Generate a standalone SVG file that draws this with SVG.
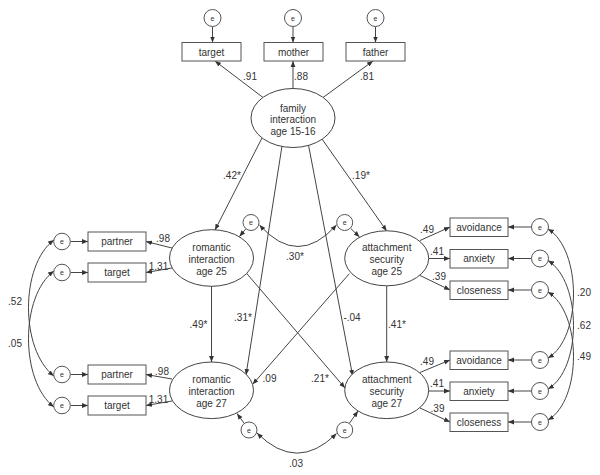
<svg xmlns="http://www.w3.org/2000/svg" width="600" height="475" viewBox="0 0 600 475">
<defs>
<marker id="ah" viewBox="0 0 10 10" refX="10" refY="5" markerWidth="6" markerHeight="6" markerUnits="userSpaceOnUse" orient="auto-start-reverse"><path d="M0,1 L10,5 L0,9 z" fill="#333"/></marker>
<style>
text{font-family:"Liberation Sans",Arial,sans-serif;font-size:10px;fill:#333;text-anchor:middle}
text.e{font-size:7px}
.box{fill:#fff;stroke:#555;stroke-width:1}
.ell{fill:#fff;stroke:#444;stroke-width:1}
.err{fill:#fff;stroke:#555;stroke-width:1}
#connectors path,#connectors line{fill:none;stroke:#444;stroke-width:1}
.a{marker-end:url(#ah)}
.b{marker-start:url(#ah);marker-end:url(#ah)}
</style>
</defs>
<rect width="600" height="475" fill="#fff"/>

<g id="connectors">
<!-- top indicators -->
<line class="a" x1="212.5" y1="26.5" x2="212.5" y2="42.5"/>
<line class="a" x1="293" y1="26.5" x2="293" y2="42.5"/>
<line class="a" x1="375.5" y1="26.5" x2="375.5" y2="42.5"/>
<line class="a" x1="263" y1="97.5" x2="215" y2="61"/>
<line class="a" x1="293" y1="89" x2="293" y2="61"/>
<line class="a" x1="323" y1="97.5" x2="373" y2="61"/>
<!-- structural -->
<line class="a" x1="262" y1="138" x2="215" y2="230"/>
<line class="a" x1="322" y1="139" x2="386.7" y2="231"/>
<line class="a" x1="282" y1="146" x2="246" y2="375"/>
<line class="a" x1="308.5" y1="145" x2="352.7" y2="376"/>
<line class="a" x1="211.5" y1="286" x2="211.5" y2="362"/>
<line class="a" x1="386.7" y1="286" x2="386.7" y2="362"/>
<line class="a" x1="246" y1="272.7" x2="345" y2="388"/>
<line class="a" x1="349.3" y1="273.7" x2="252.7" y2="384.3"/>
<!-- left indicators -->
<line class="a" x1="70.5" y1="241.5" x2="88" y2="241.5"/>
<line class="a" x1="70.5" y1="272.5" x2="88" y2="272.5"/>
<line class="a" x1="70.5" y1="374.5" x2="88" y2="374.5"/>
<line class="a" x1="70.5" y1="405.5" x2="88" y2="405.5"/>
<line class="a" x1="172" y1="248" x2="146" y2="241.5"/>
<line class="a" x1="172" y1="268" x2="146" y2="272.5"/>
<line class="a" x1="172" y1="379" x2="146" y2="374.5"/>
<line class="a" x1="172" y1="401" x2="146" y2="405.5"/>
<!-- right indicators -->
<line class="a" x1="420" y1="240.5" x2="450" y2="227"/>
<line class="a" x1="428.5" y1="258.5" x2="450" y2="258.5"/>
<line class="a" x1="420" y1="275.5" x2="450" y2="290"/>
<line class="a" x1="420" y1="372.5" x2="450" y2="360"/>
<line class="a" x1="428.5" y1="391" x2="450" y2="391"/>
<line class="a" x1="420" y1="408" x2="450" y2="422"/>
<line class="a" x1="531.5" y1="227" x2="508" y2="227"/>
<line class="a" x1="531.5" y1="258.5" x2="508" y2="258.5"/>
<line class="a" x1="531.5" y1="290" x2="508" y2="290"/>
<line class="a" x1="531.5" y1="360" x2="508" y2="360"/>
<line class="a" x1="531.5" y1="391" x2="508" y2="391"/>
<line class="a" x1="531.5" y1="422" x2="508" y2="422"/>
<!-- disturbances -->
<line class="a" x1="245.6" y1="229.1" x2="239.5" y2="236.5"/>
<line class="a" x1="350.8" y1="228.5" x2="359.5" y2="237"/>
<line class="a" x1="244" y1="423.1" x2="237" y2="413.5"/>
<line class="a" x1="349.6" y1="423" x2="358" y2="411"/>
<!-- covariances -->
<path class="b" d="M259.5,225 Q298,268 336.5,225"/>
<path class="b" d="M257,433 Q297,473 336.5,433.5"/>
<path class="b" d="M54,240 C20,265 20,350 54,376"/>
<path class="b" d="M54,271 C20,296 20,381 54,407"/>
<path class="b" d="M548,229 C582,250 582,338 548,358"/>
<path class="b" d="M548,260.5 C582,282 582,369 548,389"/>
<path class="b" d="M548,292 C582,313 582,400 548,420"/>
</g>

<g id="labels">
<text x="250" y="79.5">.91</text>
<text x="301" y="79.5">.88</text>
<text x="367" y="79.5">.81</text>
<text x="232" y="178.5">.42*</text>
<text x="361" y="178.5">.19*</text>
<text x="295" y="260">.30*</text>
<text x="198.5" y="328">.49*</text>
<text x="243" y="320.5">.31*</text>
<text x="352" y="320.5">-.04</text>
<text x="397" y="328">.41*</text>
<text x="269.5" y="382">.09</text>
<text x="320" y="382">.21*</text>
<text x="296" y="466.5">.03</text>
<text x="163" y="241.5">.98</text>
<text x="158.5" y="270">1.31</text>
<text x="162" y="375">.98</text>
<text x="158.5" y="403">1.31</text>
<text x="427" y="233">.49</text>
<text x="437" y="255">.41</text>
<text x="439" y="280">.39</text>
<text x="427" y="365">.49</text>
<text x="437" y="387">.41</text>
<text x="437.5" y="412">.39</text>
<text x="15" y="305">.52</text>
<text x="15" y="347">.05</text>
<text x="584" y="296">.20</text>
<text x="584" y="328.5">.62</text>
<text x="584" y="360">.49</text>
</g>

<g id="e-top1"><circle class="err" cx="212.5" cy="18" r="8.5"/><text class="e" x="212.5" y="20.5">e</text></g>
<g id="e-top2"><circle class="err" cx="293" cy="18" r="8.5"/><text class="e" x="293" y="20.5">e</text></g>
<g id="e-top3"><circle class="err" cx="375.5" cy="18" r="8.5"/><text class="e" x="375.5" y="20.5">e</text></g>
<g id="box-target-top"><rect class="box" x="182" y="42.5" width="59" height="18.5"/><text x="211.5" y="55.5">target</text></g>
<g id="box-mother"><rect class="box" x="264" y="42.5" width="59" height="18.5"/><text x="293.5" y="55.5">mother</text></g>
<g id="box-father"><rect class="box" x="346" y="42.5" width="59" height="18.5"/><text x="375.5" y="55.5">father</text></g>
<g id="family"><ellipse class="ell" cx="293" cy="118" rx="42" ry="29.5"/><text x="293" y="111.5">family</text><text x="293" y="123">interaction</text><text x="293" y="134.5">age 15-16</text></g>

<g id="rom25"><ellipse class="ell" cx="211.5" cy="258" rx="42" ry="28.3"/><text x="211.5" y="251">romantic</text><text x="211.5" y="263">interaction</text><text x="211.5" y="275">age 25</text></g>
<g id="att25"><ellipse class="ell" cx="386.7" cy="258.3" rx="42" ry="27.5"/><text x="386.7" y="251">attachment</text><text x="386.7" y="263">security</text><text x="386.7" y="275">age 25</text></g>
<g id="rom27"><ellipse class="ell" cx="211.5" cy="390.3" rx="42" ry="28.3"/><text x="211.5" y="383">romantic</text><text x="211.5" y="395">interaction</text><text x="211.5" y="407">age 27</text></g>
<g id="att27"><ellipse class="ell" cx="386.7" cy="390.3" rx="42" ry="28.3"/><text x="386.7" y="383">attachment</text><text x="386.7" y="395">security</text><text x="386.7" y="407">age 27</text></g>

<g id="e-rom25"><circle class="err" cx="251" cy="222.5" r="8"/><text class="e" x="251" y="225">e</text></g>
<g id="e-att25"><circle class="err" cx="344.7" cy="222.5" r="8"/><text class="e" x="344.7" y="225">e</text></g>
<g id="e-rom27"><circle class="err" cx="249" cy="430" r="8"/><text class="e" x="249" y="432.5">e</text></g>
<g id="e-att27"><circle class="err" cx="344.7" cy="430" r="8"/><text class="e" x="344.7" y="432.5">e</text></g>

<g id="box-partner25"><rect class="box" x="88" y="232" width="58" height="19"/><text x="117" y="245">partner</text></g>
<g id="box-target25"><rect class="box" x="88" y="263" width="58" height="19"/><text x="117" y="276">target</text></g>
<g id="box-partner27"><rect class="box" x="88" y="365" width="58" height="19"/><text x="117" y="378">partner</text></g>
<g id="box-target27"><rect class="box" x="88" y="396" width="58" height="19"/><text x="117" y="409">target</text></g>
<g id="e-l1"><circle class="err" cx="62" cy="241.5" r="8.3"/><text class="e" x="62" y="244">e</text></g>
<g id="e-l2"><circle class="err" cx="62" cy="272.5" r="8.3"/><text class="e" x="62" y="275">e</text></g>
<g id="e-l3"><circle class="err" cx="62" cy="374.5" r="8.3"/><text class="e" x="62" y="377">e</text></g>
<g id="e-l4"><circle class="err" cx="62" cy="405.5" r="8.3"/><text class="e" x="62" y="408">e</text></g>

<g id="box-avoid25"><rect class="box" x="450" y="218" width="58" height="18.5"/><text x="479" y="230.5">avoidance</text></g>
<g id="box-anx25"><rect class="box" x="450" y="249.5" width="58" height="18.5"/><text x="479" y="262">anxiety</text></g>
<g id="box-clos25"><rect class="box" x="450" y="281" width="58" height="18.5"/><text x="479" y="293.5">closeness</text></g>
<g id="box-avoid27"><rect class="box" x="450" y="351" width="58" height="18.5"/><text x="479" y="363.5">avoidance</text></g>
<g id="box-anx27"><rect class="box" x="450" y="382" width="58" height="18.5"/><text x="479" y="394.5">anxiety</text></g>
<g id="box-clos27"><rect class="box" x="450" y="413" width="58" height="18.5"/><text x="479" y="425.5">closeness</text></g>
<g id="e-r1"><circle class="err" cx="540" cy="227" r="8.5"/><text class="e" x="540" y="229.5">e</text></g>
<g id="e-r2"><circle class="err" cx="540" cy="258.5" r="8.5"/><text class="e" x="540" y="261">e</text></g>
<g id="e-r3"><circle class="err" cx="540" cy="290" r="8.5"/><text class="e" x="540" y="292.5">e</text></g>
<g id="e-r4"><circle class="err" cx="540" cy="360" r="8.5"/><text class="e" x="540" y="362.5">e</text></g>
<g id="e-r5"><circle class="err" cx="540" cy="391" r="8.5"/><text class="e" x="540" y="393.5">e</text></g>
<g id="e-r6"><circle class="err" cx="540" cy="422" r="8.5"/><text class="e" x="540" y="424.5">e</text></g>
</svg>
